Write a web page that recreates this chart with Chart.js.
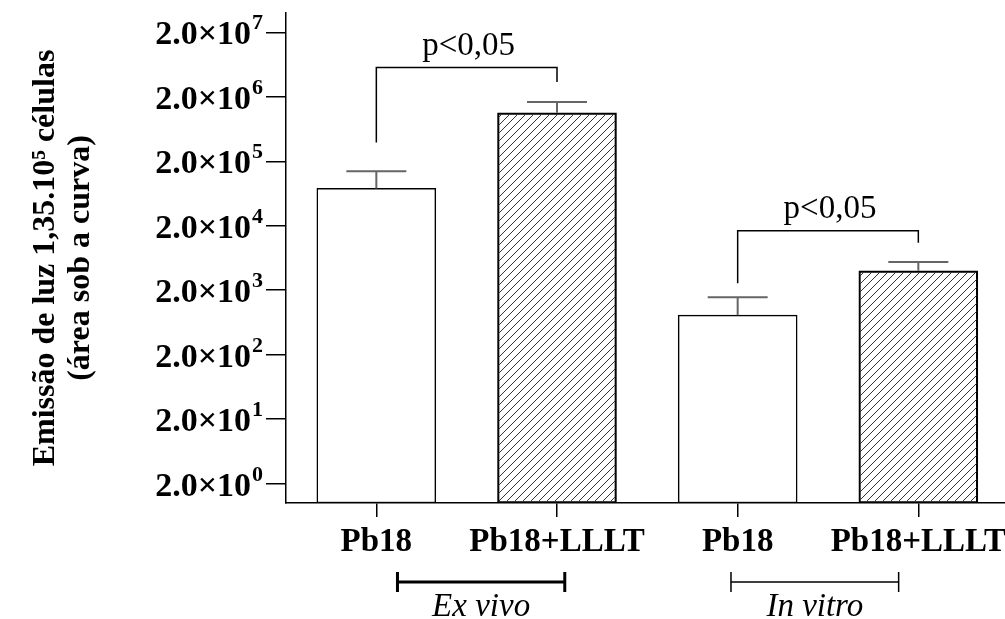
<!DOCTYPE html>
<html>
<head>
<meta charset="utf-8">
<script src="https://cdn.jsdelivr.net/npm/chart.js@4.4.1/dist/chart.umd.min.js"></script>
<style>
  html, body { margin: 0; padding: 0; background: #fff; overflow: hidden; }
</style>
</head>
<body>
<canvas id="grafico" width="1012" height="619"></canvas>
<script>
// dados (escala log)
const categorias = ['Pb18', 'Pb18+LLLT', 'Pb18', 'Pb18+LLLT'];
const medias = [76000, 1130000, 820, 4000];
const errosSup = [140000, 1670000, 1560, 5500];
const hachurado = [false, true, false, true];

const ticksY = [2, 20, 200, 2000, 20000, 200000, 2000000, 20000000];
const rotulosBase = ['2.0×10', '2.0×10', '2.0×10', '2.0×10', '2.0×10', '2.0×10', '2.0×10', '2.0×10'];
const rotulosExp = ['0', '1', '2', '3', '4', '5', '6', '7'];

// comparações (p<0,05)
const compDe = [0, 2];
const compAte = [1, 3];
const compNivel = [5700000, 16700];
const compPernaDe = [390000, 2570];
const compPernaAte = [3400000, 10900];
const compTexto = ['p<0,05', 'p<0,05'];

// grupos embaixo do eixo x
const grupos = ['Ex vivo', 'In vitro'];
const grupoInicio = [0.117, 1.963];
const grupoFim = [1.043, 2.891];

const fonte = 'Liberation Serif, Times New Roman, serif';

function padraoHachura() {
  const c = document.createElement('canvas');
  c.width = 8; c.height = 8;
  const g = c.getContext('2d');
  g.strokeStyle = '#333';
  g.lineWidth = 1;
  g.beginPath();
  g.moveTo(0, 8); g.lineTo(8, 0);
  g.moveTo(-2, 2); g.lineTo(2, -2);
  g.moveTo(6, 10); g.lineTo(10, 6);
  g.stroke();
  return g.createPattern(c, 'repeat');
}
const hachura = padraoHachura();

// rótulos do eixo y com expoente sobrescrito
const rotulosY = {
  id: 'rotulosY',
  afterDraw(chart) {
    const ctx = chart.ctx;
    const y = chart.scales.y;
    const xDir = y.right - 20 - 3;
    ctx.save();
    ctx.fillStyle = '#000';
    ctx.textAlign = 'left';
    ctx.textBaseline = 'alphabetic';
    ticksY.forEach((v, i) => {
      const py = y.getPixelForValue(v);
      ctx.font = 'bold 22px ' + fonte;
      const wExp = ctx.measureText(rotulosExp[i]).width;
      ctx.fillText(rotulosExp[i], xDir - wExp, py - 3);
      ctx.font = 'bold 34px ' + fonte;
      const wBase = ctx.measureText(rotulosBase[i]).width;
      ctx.fillText(rotulosBase[i], xDir - wExp - 1 - wBase, py + 12);
    });
    ctx.restore();
  }
};

// barras de erro (só para cima)
const barrasErro = {
  id: 'barrasErro',
  afterDatasetsDraw(chart) {
    const ctx = chart.ctx;
    const y = chart.scales.y;
    const meta = chart.getDatasetMeta(0);
    ctx.save();
    ctx.strokeStyle = '#666';
    ctx.lineWidth = 2;
    meta.data.forEach((bar, i) => {
      const yErr = y.getPixelForValue(errosSup[i]);
      ctx.beginPath();
      ctx.moveTo(bar.x, bar.y);
      ctx.lineTo(bar.x, yErr);
      ctx.moveTo(bar.x - 30, yErr);
      ctx.lineTo(bar.x + 30, yErr);
      ctx.stroke();
    });
    ctx.restore();
  }
};

// colchetes de significância e grupos
const anotacoes = {
  id: 'anotacoes',
  afterDraw(chart) {
    const ctx = chart.ctx;
    const x = chart.scales.x;
    const y = chart.scales.y;
    ctx.save();
    ctx.strokeStyle = '#000';
    ctx.fillStyle = '#000';
    ctx.lineWidth = 1.5;
    ctx.font = '33px ' + fonte;
    ctx.textAlign = 'center';
    ctx.textBaseline = 'alphabetic';
    compDe.forEach((de, k) => {
      const x1 = x.getPixelForValue(de);
      const x2 = x.getPixelForValue(compAte[k]);
      const yn = y.getPixelForValue(compNivel[k]);
      ctx.beginPath();
      ctx.moveTo(x1, y.getPixelForValue(compPernaDe[k]));
      ctx.lineTo(x1, yn);
      ctx.lineTo(x2, yn);
      ctx.lineTo(x2, y.getPixelForValue(compPernaAte[k]));
      ctx.stroke();
      ctx.fillText(compTexto[k], (x1 + x2) / 2 + 2, yn - 13);
    });

    const base = chart.chartArea.bottom;
    const larguras = [3, 1.5];
    ctx.font = 'italic 33px ' + fonte;
    ctx.textBaseline = 'middle';
    grupos.forEach((nome, k) => {
      const x1 = x.getPixelForValue(grupoInicio[k]);
      const x2 = x.getPixelForValue(grupoFim[k]);
      const yb = base + 79;
      ctx.lineWidth = larguras[k];
      ctx.beginPath();
      ctx.moveTo(x1, yb); ctx.lineTo(x2, yb);
      ctx.moveTo(x1, yb - 10); ctx.lineTo(x1, yb + 10);
      ctx.moveTo(x2, yb - 10); ctx.lineTo(x2, yb + 10);
      ctx.stroke();
      ctx.fillText(nome, (x1 + x2) / 2, base + 104);
    });
    ctx.restore();
  }
};

const ctx = document.getElementById('grafico').getContext('2d');

const grafico = new Chart(ctx, {
  type: 'bar',
  data: {
    labels: categorias,
    datasets: [{
      data: medias,
      backgroundColor: hachurado.map(h => h ? hachura : '#fff'),
      borderColor: '#000',
      borderWidth: 1.5,
      borderSkipped: false,
      barThickness: 119,
    }],
  },
  options: {
    responsive: false,
    animation: false,
    layout: { padding: { top: 13, left: 0, right: 0, bottom: 0 } },
    plugins: {
      legend: { display: false },
      tooltip: { enabled: false },
    },
    scales: {
      x: {
        offset: true,
        grid: { offset: false, drawOnChartArea: false, tickLength: 14, color: '#000', lineWidth: 1.5 },
        border: { color: '#000', width: 1.5 },
        ticks: {
          color: '#000',
          padding: 6,
          font: { family: fonte, size: 33, weight: 'bold' },
        },
        afterFit(scale) { scale.height = 116; },
      },
      y: {
        type: 'logarithmic',
        min: 1,
        max: 40000000,
        grid: { drawOnChartArea: false, tickLength: 20, color: '#000', lineWidth: 1.5 },
        border: { color: '#000', width: 1.5 },
        afterBuildTicks(scale) {
          scale.ticks = ticksY.map(v => ({ value: v }));
        },
        ticks: { display: false, autoSkip: false },
        title: {
          display: true,
          text: ['Emissão de luz 1,35.10⁵ células', '(área sob a curva)'],
          color: '#000',
          padding: { top: 28 },
          font: { family: fonte, size: 32, weight: 'bold', lineHeight: 1.1 },
        },
        afterFit(scale) { scale.width = 286; },
      },
    },
  },
  plugins: [barrasErro, anotacoes, rotulosY],
});
</script>
</body>
</html>
